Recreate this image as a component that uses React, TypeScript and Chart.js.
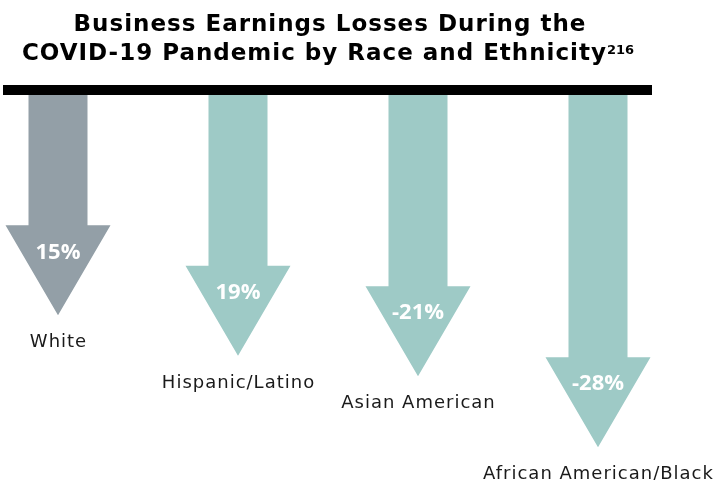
import React, { useEffect, useRef } from "react";
import { Chart, registerables } from "chart.js";

Chart.register(...registerables);

const categories = ["White", "Hispanic/Latino", "Asian American", "African American/Black"];
const lossValues = [-15, -19, -21, -28];
const valueLabels = ["15%", "19%", "-21%", "-28%"];
const arrowColors = ["#939fa7", "#9ecac6", "#9ecac6", "#9ecac6"];
const titleLines = ["Business Earnings Losses During the", "COVID-19 Pandemic by Race and Ethnicity"];
const titleSup = "216";

const LABEL_FONT = "'DejaVu Sans', 'Open Sans', sans-serif";
const VALUE_FONT = "'Open Sans', 'DejaVu Sans', sans-serif";
const TITLE_FONT = "'DejaVu Sans', 'Open Sans', sans-serif";

const arrowPlugin = {
  id: "arrows",
  afterDatasetsDraw(chart: any) {
    const ctx = chart.ctx;
    const area = chart.chartArea;
    const meta = chart.getDatasetMeta(0);
    ctx.save();
    meta.data.forEach((el: any, i: number) => {
      const x = el.x;
      const tip = el.y;
      const top = area.top;
      const shaftHalf = 29.5;
      const headHalf = 52.5;
      const headH = 90;
      const headTop = tip - headH;
      ctx.beginPath();
      ctx.moveTo(x - shaftHalf, top);
      ctx.lineTo(x + shaftHalf, top);
      ctx.lineTo(x + shaftHalf, headTop);
      ctx.lineTo(x + headHalf, headTop);
      ctx.lineTo(x, tip);
      ctx.lineTo(x - headHalf, headTop);
      ctx.lineTo(x - shaftHalf, headTop);
      ctx.closePath();
      ctx.fillStyle = arrowColors[i];
      ctx.fill();

      ctx.textAlign = "center";
      ctx.textBaseline = "middle";
      ctx.fillStyle = "#ffffff";
      (ctx as any).letterSpacing = "0px";
      ctx.font = `bold 22px ${VALUE_FONT}`;
      ctx.fillText(valueLabels[i], x, tip - 63);

      ctx.fillStyle = "#1a1a1a";
      (ctx as any).letterSpacing = "1px";
      ctx.font = `18px ${LABEL_FONT}`;
      ctx.fillText(categories[i], x + 0.5, tip + 27);
      (ctx as any).letterSpacing = "0px";
    });
    ctx.restore();
  },
  afterDraw(chart: any) {
    const ctx = chart.ctx;
    ctx.save();
    ctx.fillStyle = "#000000";
    ctx.fillRect(3, 85, 649, 10);
    ctx.fillStyle = "#000000";
    ctx.textBaseline = "alphabetic";
    ctx.textAlign = "left";
    (ctx as any).letterSpacing = "1px";
    ctx.font = `bold 23px ${TITLE_FONT}`;
    const w1 = ctx.measureText(titleLines[0]).width;
    ctx.fillText(titleLines[0], 330 - w1 / 2, 31);
    const w2 = ctx.measureText(titleLines[1]).width;
    (ctx as any).letterSpacing = "0px";
    ctx.font = `bold 13px ${TITLE_FONT}`;
    const ws = ctx.measureText(titleSup).width;
    const start = 328 - (w2 + ws) / 2;
    (ctx as any).letterSpacing = "1px";
    ctx.font = `bold 23px ${TITLE_FONT}`;
    ctx.fillText(titleLines[1], start, 60);
    (ctx as any).letterSpacing = "0px";
    ctx.font = `bold 13px ${TITLE_FONT}`;
    ctx.fillText(titleSup, start + w2, 54);
    ctx.restore();
  },
};

export default function App() {
  const ref = useRef<HTMLCanvasElement | null>(null);
  useEffect(() => {
    document.body.style.margin = "0";
    if (!ref.current) return;
    const chart = new Chart(ref.current, {
      type: "bar",
      data: {
        labels: categories,
        datasets: [
          {
            data: lossValues,
            backgroundColor: "rgba(0,0,0,0)",
            borderWidth: 0,
          },
        ],
      },
      options: {
        responsive: false,
        animation: false,
        devicePixelRatio: 1,
        layout: { padding: { top: 95, bottom: 12.5, left: 58, right: 122 } },
        plugins: { legend: { display: false }, tooltip: { enabled: false }, title: { display: false } },
        scales: {
          x: { type: "category", offset: false, display: false },
          y: { display: false, min: -30, max: 6.7 },
        },
      },
      plugins: [arrowPlugin],
    });
    return () => chart.destroy();
  }, []);
  return (
    <div style={{ width: 720, height: 480, background: "#ffffff" }}>
      <canvas ref={ref} width={720} height={480} />
    </div>
  );
}
